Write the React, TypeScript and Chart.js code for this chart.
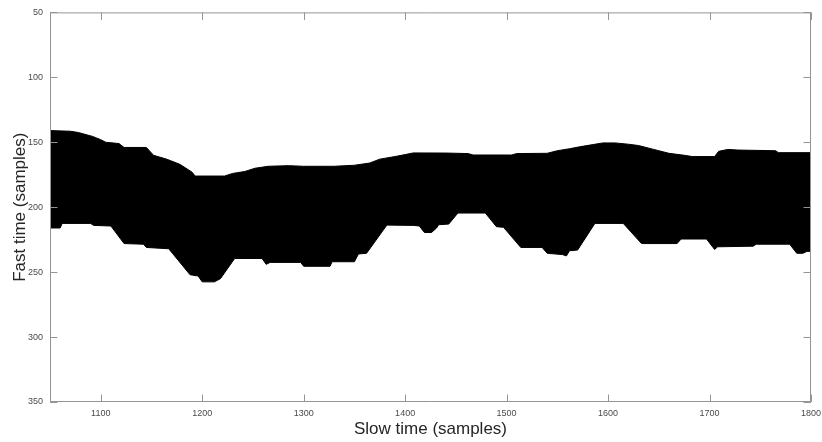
import React, { useEffect, useRef } from "react";
import { Chart, registerables } from "chart.js";

Chart.register(...registerables);

// Upper edge of the black band (slow time sample, fast time sample)
const topX = [1050, 1070, 1078, 1092, 1100, 1105, 1118, 1123, 1145, 1152, 1165, 1178, 1190, 1193, 1222, 1230, 1242, 1252, 1265, 1285, 1300, 1330, 1350, 1365, 1375, 1390, 1400, 1408, 1440, 1462, 1467, 1505, 1510, 1540, 1550, 1562, 1572, 1585, 1595, 1607, 1620, 1630, 1645, 1660, 1675, 1683, 1705, 1709, 1718, 1728, 1765, 1768, 1800];
const topY = [141, 141.5, 142.5, 145.5, 148, 150, 151, 154, 154, 160, 163, 167, 173, 176, 176, 174, 172.5, 170, 168.5, 168, 168.5, 168.5, 167.7, 166, 163, 161, 159.5, 158.2, 158.3, 158.7, 159.8, 159.8, 158.7, 158.5, 156.5, 155, 153.5, 151.8, 150.5, 150.5, 151.5, 152.5, 155.5, 158.5, 160, 161, 161, 157, 155.5, 156, 156.5, 158, 158];

// Lower edge of the black band
const bottomX = [1050, 1060, 1062, 1090, 1093, 1110, 1123, 1142, 1145, 1167, 1188, 1196, 1200, 1212, 1218, 1232, 1259, 1263, 1267, 1297, 1300, 1326, 1328, 1350, 1354, 1362, 1382, 1408, 1414, 1419, 1426, 1431, 1433, 1443, 1452, 1479, 1490, 1497, 1514, 1535, 1540, 1555, 1559, 1562, 1570, 1587, 1615, 1633, 1668, 1672, 1697, 1705, 1708, 1743, 1746, 1779, 1786, 1792, 1796, 1800];
const bottomY = [216, 216, 212.5, 212.5, 214, 214.5, 228, 228.5, 231, 232, 252, 253, 257.5, 257.5, 255, 239.5, 239.5, 244, 242.5, 242.5, 245.5, 245.5, 242, 242, 236, 235.5, 213.8, 214, 214.5, 219.5, 219.5, 216, 213.5, 213, 204.5, 204.5, 215, 215.5, 231, 231, 235.5, 236.5, 237.5, 233.5, 233, 212.5, 212.5, 228, 228, 224.5, 224.5, 232.5, 230.5, 230, 228.5, 228.5, 235.5, 235.5, 234, 234];

const xTicks = [1100, 1200, 1300, 1400, 1500, 1600, 1700, 1800];
const yTicks = [50, 100, 150, 200, 250, 300, 350];

const xTitle = "Slow time (samples)";
const yTitle = "Fast time (samples)";

const FONT = "'Liberation Sans', Arial, Helvetica, sans-serif";
const AXIS_COLOR = "#949494";
const TEXT_COLOR = "#262626";
const TICK_COLOR = "#4a4a4a";
const TICK_LEN = 7.5;

const framePlugin = {
  id: "matlabFrame",
  afterDatasetsDraw(chart: any) {
    const { ctx, chartArea } = chart;
    const { left, right, top, bottom } = chartArea;
    const xs = chart.scales.x;
    const ys = chart.scales.y;
    ctx.save();
    ctx.strokeStyle = AXIS_COLOR;
    ctx.lineWidth = 1;
    ctx.beginPath();
    ctx.rect(left + 0.5, top + 0.5, right - left - 1, bottom - top - 1);
    ctx.stroke();
    ctx.beginPath();
    xTicks.forEach((v) => {
      const px = Math.round(xs.getPixelForValue(v)) + 0.5;
      ctx.moveTo(px, bottom);
      ctx.lineTo(px, bottom - TICK_LEN);
      ctx.moveTo(px, top);
      ctx.lineTo(px, top + TICK_LEN);
    });
    yTicks.forEach((v) => {
      const py = Math.round(ys.getPixelForValue(v)) + 0.5;
      ctx.moveTo(left, py);
      ctx.lineTo(left + TICK_LEN, py);
      ctx.moveTo(right, py);
      ctx.lineTo(right - TICK_LEN, py);
    });
    ctx.stroke();
    ctx.restore();
  },
};

export default function App() {
  const canvasRef = useRef<HTMLCanvasElement | null>(null);

  useEffect(() => {
    if (!canvasRef.current) return;
    const topData = topX.map((x, i) => ({ x, y: topY[i] }));
    const bottomData = bottomX.map((x, i) => ({ x, y: bottomY[i] }));
    const chart = new Chart(canvasRef.current, {
      type: "line",
      data: {
        datasets: [
          {
            label: "upper",
            data: topData,
            borderColor: "#000000",
            borderWidth: 1,
            pointRadius: 0,
            tension: 0,
            fill: false,
          },
          {
            label: "lower",
            data: bottomData,
            borderColor: "#000000",
            backgroundColor: "#000000",
            borderWidth: 1,
            pointRadius: 0,
            tension: 0,
            fill: "-1",
          },
        ],
      },
      options: {
        animation: false,
        responsive: false,
        maintainAspectRatio: false,
        layout: { padding: { top: 12, right: 11, left: 0, bottom: 0 } },
        plugins: {
          legend: { display: false },
          tooltip: { enabled: false },
        },
        scales: {
          x: {
            type: "linear",
            min: 1050,
            max: 1800,
            afterFit: (s: any) => {
              s.height = 40;
              s.paddingLeft = 0;
              s.paddingRight = 0;
            },
            afterBuildTicks: (s: any) => {
              s.ticks = xTicks.map((v) => ({ value: v }));
            },
            grid: { display: true, drawOnChartArea: false, drawTicks: false, color: "rgba(0,0,0,0)" },
            border: { display: false },
            ticks: {
              padding: 6,
              maxRotation: 0,
              autoSkip: false,
              color: TICK_COLOR,
              font: { family: FONT, size: 9 },
              callback: (v: any) => String(v),
            },
            title: {
              display: true,
              text: xTitle,
              color: TEXT_COLOR,
              font: { family: FONT, size: 17 },
              padding: { top: 0, bottom: 2 },
            },
          },
          y: {
            type: "linear",
            reverse: true,
            min: 50,
            max: 350,
            afterFit: (s: any) => {
              s.width = 50;
            },
            afterBuildTicks: (s: any) => {
              s.ticks = yTicks.map((v) => ({ value: v }));
            },
            grid: { display: true, drawOnChartArea: false, drawTicks: false, color: "rgba(0,0,0,0)" },
            border: { display: false },
            ticks: {
              padding: 7,
              autoSkip: false,
              color: TICK_COLOR,
              font: { family: FONT, size: 9 },
              callback: (v: any) => String(v),
            },
            title: {
              display: true,
              text: yTitle,
              color: TEXT_COLOR,
              font: { family: FONT, size: 17 },
              padding: { top: 10, bottom: 0 },
            },
          },
        },
      },
      plugins: [framePlugin],
    });
    return () => chart.destroy();
  }, []);

  return (
    <div style={{ position: "absolute", left: 0, top: 0, width: 822, height: 442, background: "#ffffff" }}>
      <canvas ref={canvasRef} width={822} height={442} style={{ width: 822, height: 442, display: "block" }} />
    </div>
  );
}
